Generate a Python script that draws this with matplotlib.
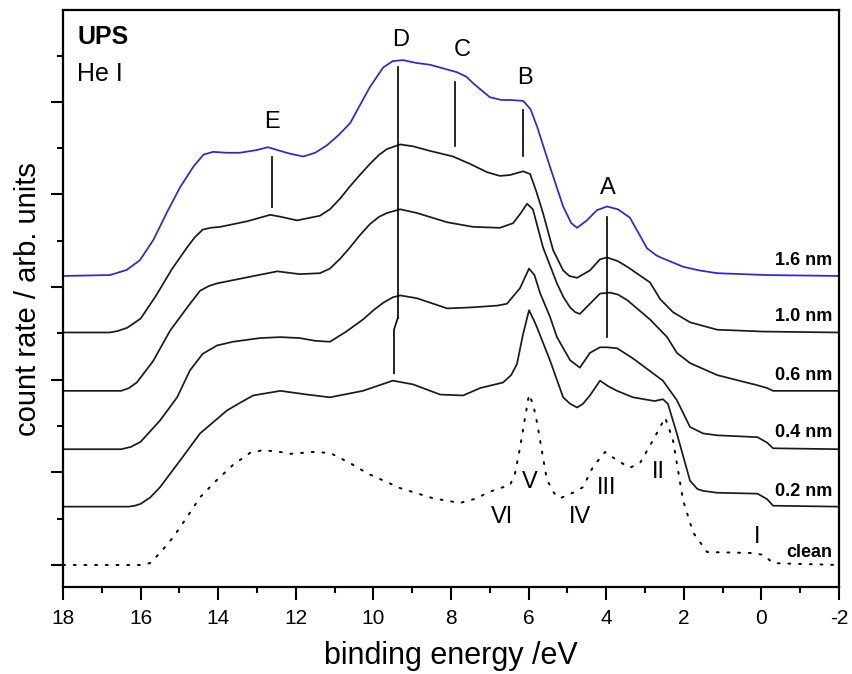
import matplotlib
matplotlib.use("Agg")
import matplotlib.pyplot as plt
from matplotlib.ticker import MultipleLocator
import numpy as np

plt.rcParams['font.family'] = ['Liberation Sans', 'DejaVu Sans']
plt.rcParams['axes.unicode_minus'] = False

# ---------------- data (binding energy in eV, intensity above baseline in arb. units)
labels = ["clean", "0.2 nm", "0.4 nm", "0.6 nm", "1.0 nm", "1.6 nm"]
offsets = [0.0, 0.63, 1.25, 1.88, 2.51, 3.12]

clean_E = [18.0, 16.0, 15.76, 15.5, 15.16, 14.8, 14.47, 14.03, 13.62, 13.18, 12.85, 12.4, 12.15,
           11.56, 11.12, 10.6, 10.16, 9.31, 8.46, 7.77, 7.33, 7.07, 6.74, 6.48, 6.35, 6.22, 6.1,
           5.99, 5.88, 5.78, 5.53, 5.35, 5.19, 4.86, 4.6, 4.34, 4.03, 3.72, 3.39, 3.13, 2.79,
           2.48, 2.28, 2.02, 1.76, 1.4, 0.29, -0.05, -0.3, -2.0]
clean_I = [0.0, 0.0, 0.02, 0.13, 0.30, 0.52, 0.73, 0.92, 1.08, 1.21, 1.24, 1.22, 1.20,
           1.22, 1.21, 1.10, 0.99, 0.83, 0.72, 0.67, 0.72, 0.78, 0.83, 0.86, 0.99, 1.27, 1.57,
           1.84, 1.73, 1.53, 0.92, 0.78, 0.72, 0.78, 0.84, 1.06, 1.22, 1.13, 1.05, 1.10, 1.35,
           1.59, 1.35, 0.70, 0.35, 0.14, 0.13, 0.11, 0.02, 0.0]

nm02_E = [18.0, 16.3, 16.15, 16.0, 15.75, 15.5, 14.98, 14.47, 13.77, 13.4, 13.1, 12.4, 11.71,
          11.12, 10.27, 9.5, 8.98, 8.28, 7.69, 7.25, 6.66, 6.45, 6.3, 6.15, 5.99, 5.85, 5.78,
          5.45, 5.11, 4.93, 4.75, 4.6, 4.42, 4.16, 3.95, 3.72, 3.31, 2.75, 2.54, 2.41, 2.18,
          2.02, 1.84, 1.65, 1.5, 1.14, 0.1, -0.15, -0.3, -2.0]
nm02_I = [0.0, 0.0, 0.01, 0.03, 0.10, 0.21, 0.50, 0.79, 1.04, 1.13, 1.20, 1.25, 1.21,
          1.18, 1.25, 1.36, 1.32, 1.21, 1.20, 1.28, 1.34, 1.42, 1.54, 1.85, 2.12, 2.00, 1.93,
          1.58, 1.18, 1.11, 1.07, 1.11, 1.20, 1.36, 1.30, 1.25, 1.18, 1.14, 1.16, 1.11, 0.79,
          0.55, 0.28, 0.19, 0.17, 0.15, 0.14, 0.08, 0.01, 0.0]

nm04_E = [18.0, 16.5, 16.25, 16.0, 15.5, 15.06, 14.73, 14.4, 14.03, 13.62, 12.92, 12.4, 11.9,
          11.5, 11.12, 10.7, 10.27, 10.0, 9.75, 9.5, 9.31, 8.88, 8.1, 7.51, 6.81, 6.56, 6.22,
          5.99, 5.85, 5.7, 5.45, 5.27, 4.93, 4.68, 4.42, 4.16, 3.98, 3.72, 3.31, 2.54, 2.18,
          1.84, 1.5, 1.14, 0.1, -0.15, -0.3, -2.0]
nm04_I = [0.0, 0.0, 0.025, 0.08, 0.31, 0.56, 0.85, 1.03, 1.12, 1.16, 1.20, 1.21, 1.20,
          1.17, 1.16, 1.27, 1.40, 1.50, 1.58, 1.64, 1.66, 1.63, 1.52, 1.53, 1.55, 1.57, 1.74,
          1.95, 1.88, 1.68, 1.43, 1.21, 0.96, 0.88, 1.04, 1.10, 1.10, 1.09, 0.98, 0.74, 0.53,
          0.24, 0.17, 0.15, 0.13, 0.07, 0.01, 0.0]

nm06_E = [18.0, 16.5, 16.3, 16.1, 15.68, 15.24, 14.8, 14.47, 14.25, 14.03, 13.44, 12.48, 11.9,
          11.38, 11.12, 10.85, 10.6, 10.35, 10.09, 9.85, 9.65, 9.31, 8.88, 8.1, 7.43, 6.74,
          6.4, 6.2, 6.04, 5.89, 5.63, 5.27, 5.1, 4.93, 4.8, 4.68, 4.42, 4.16, 3.9, 3.7, 3.46,
          2.87, 2.43, 2.18, 1.84, 1.14, 0.1, -0.15, -0.3, -2.0]
nm06_I = [0.0, 0.0, 0.03, 0.09, 0.32, 0.65, 0.90, 1.08, 1.13, 1.16, 1.21, 1.29, 1.26,
          1.27, 1.32, 1.43, 1.55, 1.68, 1.80, 1.88, 1.92, 1.96, 1.92, 1.82, 1.77, 1.76,
          1.81, 1.92, 2.02, 1.96, 1.55, 1.16, 1.01, 0.90, 0.85, 0.83, 0.94, 1.05, 1.06, 1.04,
          0.98, 0.77, 0.58, 0.41, 0.30, 0.17, 0.06, 0.03, 0.0, 0.0]

nm10_E = [18.0, 16.8, 16.6, 16.35, 16.0, 15.6, 15.2, 14.8, 14.6, 14.4, 14.2, 13.95, 13.26,
          12.66, 12.4, 11.97, 11.38, 11.12, 10.85, 10.6, 10.35, 10.09, 9.85, 9.65, 9.31, 8.98,
          8.54, 7.95, 7.51, 7.07, 6.74, 6.48, 6.14, 5.96, 5.8, 5.63, 5.37, 5.11, 4.95, 4.75,
          4.42, 4.16, 3.98, 3.7, 3.46, 2.87, 2.61, 2.28, 1.84, 1.14, -0.05, -2.0]
nm10_I = [0.0, 0.0, 0.015, 0.05, 0.15, 0.40, 0.68, 0.92, 1.03, 1.11, 1.13, 1.14, 1.20,
          1.27, 1.25, 1.21, 1.26, 1.33, 1.45, 1.58, 1.70, 1.82, 1.92, 1.98, 2.03, 2.01,
          1.96, 1.90, 1.82, 1.73, 1.69, 1.70, 1.74, 1.71, 1.52, 1.29, 0.89, 0.67, 0.61, 0.59,
          0.67, 0.79, 0.81, 0.77, 0.71, 0.54, 0.36, 0.22, 0.11, 0.03, 0.01, 0.0]

nm16_E = [18.0, 16.79, 16.36, 16.02, 15.67, 15.33, 14.98, 14.64, 14.38, 14.13, 13.78, 13.44,
          13.0, 12.72, 12.4, 12.15, 11.81, 11.5, 11.2, 10.9, 10.6, 10.3, 10.09, 9.75, 9.5,
          9.24, 8.9, 8.54, 7.85, 7.6, 7.43, 7.0, 6.7, 6.48, 6.14, 5.95, 5.78, 5.45, 5.11,
          4.9, 4.75, 4.5, 4.24, 3.98, 3.7, 3.39, 2.95, 2.7, 2.54, 2.02, 1.6, 1.14, -0.14, -2.0]
nm16_I = [0.0, 0.01, 0.065, 0.17, 0.39, 0.68, 0.96, 1.18, 1.31, 1.34, 1.33, 1.33,
          1.36, 1.39, 1.35, 1.32, 1.29, 1.33, 1.41, 1.52, 1.65, 1.88, 2.04, 2.25, 2.32,
          2.33, 2.30, 2.28, 2.20, 2.15, 2.08, 1.93, 1.90, 1.90, 1.89, 1.80, 1.61, 1.18, 0.75,
          0.57, 0.52, 0.60, 0.71, 0.75, 0.72, 0.63, 0.30, 0.22, 0.19, 0.10, 0.06, 0.03, 0.01, 0.0]

spectra_E = [clean_E, nm02_E, nm04_E, nm06_E, nm10_E, nm16_E]
spectra_I = [clean_I, nm02_I, nm04_I, nm06_I, nm10_I, nm16_I]

# peak markers: label, energy, line bottom, line top, label position
marker_names = ["E", "D", "C", "B", "A"]
marker_E = [12.61, 9.37, 7.9, 6.14, 3.98]
marker_lo = [3.87, 2.67, 4.52, 4.42, 2.46]
marker_hi = [4.40, 5.38, 5.21, 4.91, 3.76]
marker_label_E = [12.61, 9.31, 7.72, 6.09, 3.95]
marker_label_y = [4.78, 5.67, 5.56, 5.26, 4.07]
# D marker lower kinked part
d_kink_E = [9.37, 9.47, 9.47]
d_kink_y = [2.67, 2.54, 2.07]

roman_names = ["VI", "V", "IV", "III", "II", "I"]
roman_E = [6.69, 5.96, 4.68, 3.98, 2.66, 0.11]
roman_y = [0.52, 0.90, 0.52, 0.83, 1.00, 0.30]

label_y = [0.14, 0.79, 1.43, 2.05, 2.68, 3.29]

# ---------------- figure
fig = plt.figure(figsize=(8.53, 6.74), dpi=100)
ax = fig.add_axes([0.0739, 0.129, 0.9097, 0.856])

for i, (E, I) in enumerate(zip(spectra_E, spectra_I)):
    y = np.asarray(I) + offsets[i]
    if labels[i] == "clean":
        ax.plot(E, y, color='black', lw=1.4, linestyle=(0, (1.0, 4.5)),
                dash_capstyle='round')
    elif labels[i] == "1.6 nm":
        ax.plot(E, y, color='#2727e0', lw=1.25)
    else:
        ax.plot(E, y, color='#1a1a1a', lw=1.25)
    ax.text(-1.82, label_y[i], labels[i], ha='right', va='center',
            fontsize=13, fontweight='bold')

for n, e, lo, hi, le, ly in zip(marker_names, marker_E, marker_lo, marker_hi,
                                marker_label_E, marker_label_y):
    ax.plot([e, e], [lo, hi], color='black', lw=1.2)
    ax.text(le, ly, n, ha='center', va='center', fontsize=17)
ax.plot(d_kink_E, d_kink_y, color='black', lw=1.2)

for n, e, y in zip(roman_names, roman_E, roman_y):
    ax.text(e, y, n, ha='center', va='center', fontsize=17)

ax.text(17.64, 5.70, "UPS", ha='left', va='center', fontsize=18, fontweight='bold')
ax.text(17.64, 5.30, "He I", ha='left', va='center', fontsize=18)

ax.set_xlim(18, -2)
ax.set_ylim(-0.238, 5.99)
ax.xaxis.set_major_locator(MultipleLocator(2))
ax.xaxis.set_minor_locator(MultipleLocator(1))
ax.yaxis.set_major_locator(MultipleLocator(1))
ax.yaxis.set_minor_locator(MultipleLocator(0.5))
ax.tick_params(which='major', direction='out', length=9, width=1.5, labelsize=15, pad=7)
ax.tick_params(which='minor', direction='out', length=4.5, width=1.5)
ax.tick_params(axis='y', labelleft=False)
ax.tick_params(top=False, right=False, which='both')
for s in ax.spines.values():
    s.set_linewidth(1.6)

ax.set_xlabel("binding energy /eV", fontsize=22, labelpad=9)
ax.set_ylabel("count rate / arb. units", fontsize=21, labelpad=6)

fig.savefig("out.png", dpi=100)
